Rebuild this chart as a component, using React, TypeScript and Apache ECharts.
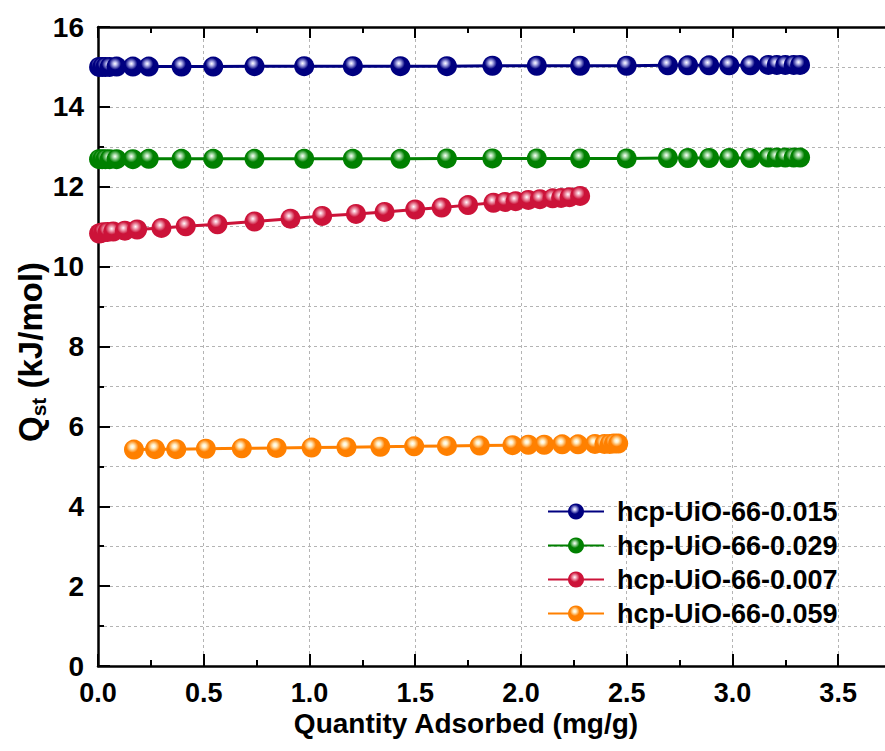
import React, { useEffect, useRef } from "react";
import * as echarts from "echarts";

const seriesNames = ["hcp-UiO-66-0.015", "hcp-UiO-66-0.029", "hcp-UiO-66-0.007", "hcp-UiO-66-0.059"];
const seriesColors = ["#000080", "#008000", "#cc1339", "#ff8000"];
const seriesHighlights = ["#b8b8ec", "#b0e0b0", "#f4b0c0", "#fff0c8"];

const xTop = [0.005, 0.02, 0.035, 0.055, 0.088, 0.165, 0.24, 0.395, 0.545, 0.74, 0.975, 1.205, 1.43, 1.65, 1.865, 2.075, 2.28, 2.5, 2.695, 2.79, 2.89, 2.985, 3.085, 3.17, 3.21, 3.25, 3.29, 3.32];
const yBlue = [15.0, 15.0, 15.0, 15.0, 15.01, 15.01, 15.01, 15.01, 15.01, 15.02, 15.02, 15.02, 15.02, 15.02, 15.03, 15.03, 15.03, 15.03, 15.04, 15.04, 15.04, 15.04, 15.04, 15.05, 15.05, 15.05, 15.05, 15.05];
const yGreen = [12.69, 12.69, 12.69, 12.69, 12.69, 12.69, 12.7, 12.7, 12.7, 12.7, 12.7, 12.7, 12.7, 12.71, 12.71, 12.71, 12.71, 12.71, 12.72, 12.72, 12.72, 12.72, 12.72, 12.73, 12.73, 12.73, 12.73, 12.73];
const xRed = [0.005, 0.012, 0.025, 0.045, 0.072, 0.127, 0.185, 0.3, 0.415, 0.565, 0.74, 0.91, 1.06, 1.22, 1.355, 1.5, 1.625, 1.75, 1.87, 1.925, 1.975, 2.035, 2.09, 2.15, 2.19, 2.23, 2.28];
const yRed = [10.83, 10.84, 10.86, 10.87, 10.88, 10.9, 10.93, 10.97, 11.01, 11.06, 11.13, 11.2, 11.27, 11.32, 11.37, 11.43, 11.48, 11.54, 11.6, 11.62, 11.64, 11.67, 11.69, 11.71, 11.72, 11.74, 11.77];
const xOrange = [0.17, 0.27, 0.37, 0.51, 0.68, 0.845, 1.01, 1.175, 1.335, 1.495, 1.65, 1.805, 1.96, 2.035, 2.11, 2.195, 2.27, 2.35, 2.395, 2.42, 2.44, 2.46];
const yOrange = [5.42, 5.43, 5.43, 5.44, 5.45, 5.46, 5.47, 5.48, 5.49, 5.5, 5.51, 5.52, 5.53, 5.54, 5.54, 5.55, 5.55, 5.56, 5.56, 5.56, 5.57, 5.57];

const xTitle = "Quantity Adsorbed (mg/g)";
const yTitleMain = "Q";
const yTitleSub = "st";
const yTitleUnit = "(kJ/mol)";
const FONT = "'Liberation Sans', Arial, sans-serif";

function zip(xs: number[], ys: number[]) {
  return xs.map((x, i) => [x, ys[i]]);
}

function ball(base: string, hi: string) {
  return new echarts.graphic.RadialGradient(0.42, 0.36, 0.6, [
    { offset: 0, color: "#ffffff" },
    { offset: 0.16, color: hi },
    { offset: 0.5, color: base },
    { offset: 1, color: base },
  ]);
}

export default function App() {
  const ref = useRef<HTMLDivElement>(null);
  useEffect(() => {
    if (!ref.current) return;
    const chart = echarts.init(ref.current, undefined, { renderer: "svg" });
    const datasets = [zip(xTop, yBlue), zip(xTop, yGreen), zip(xRed, yRed), zip(xOrange, yOrange)];
    const gridLine = { show: true, lineStyle: { color: "#b4b4b4", type: [3, 3] as any, width: 1 } };
    const axisLine = { show: true, onZero: false, lineStyle: { color: "#000", width: 2.5 } };
    const titleFont = { fontFamily: FONT, fontWeight: "bold", fill: "#000", verticalAlign: "middle", align: "left" };
    const mainSize = 33;
    const subSize = 21;
    const qW = 0.778 * mainSize;
    const sW = 0.889 * subSize;
    const spW = 0.278 * mainSize;
    const start = -92;
    chart.setOption({
      animation: false,
      backgroundColor: "#ffffff",
      textStyle: { fontFamily: FONT },
      grid: { left: 98, top: 27, width: 793, height: 639, containLabel: false, outerBoundsMode: "none" },
      legend: {
        orient: "vertical",
        left: 547,
        top: 498,
        padding: 0,
        itemWidth: 56,
        itemHeight: 20,
        itemGap: 7,
        data: seriesNames,
        textStyle: { fontFamily: FONT, fontSize: 27, fontWeight: "bold", color: "#000", lineHeight: 27, padding: [0, 0, 0, 8] },
      },
      xAxis: [
        {
          type: "value",
          min: 0,
          max: 3.75,
          interval: 0.5,
          position: "bottom",
          axisLine,
          axisTick: { show: true, inside: true, length: 12, lineStyle: { width: 2, color: "#000" } },
          minorTick: { show: true, splitNumber: 2, length: 6, lineStyle: { width: 2, color: "#000" } },
          splitLine: gridLine,
          axisLabel: {
            showMaxLabel: false,
            margin: 13,
            fontFamily: FONT,
            fontSize: 27,
            fontWeight: "bold",
            color: "#000",
            formatter: (v: number) => v.toFixed(1),
          },
        },
        {
          type: "value",
          min: 0,
          max: 3.75,
          interval: 0.5,
          position: "top",
          axisLine,
          axisTick: { show: true, inside: true, length: 11, lineStyle: { width: 2, color: "#000" } },
          minorTick: { show: true, splitNumber: 2, length: 6, lineStyle: { width: 2, color: "#000" } },
          splitLine: { show: false },
          axisLabel: { show: false },
        },
      ],
      yAxis: {
        type: "value",
        min: 0,
        max: 16,
        interval: 2,
        axisLine,
        axisTick: { show: true, inside: true, length: 12, lineStyle: { width: 2, color: "#000" } },
        minorTick: { show: true, splitNumber: 2, length: 6, lineStyle: { width: 2, color: "#000" } },
        splitLine: gridLine,
        minorSplitLine: gridLine,
        axisLabel: { margin: 14, fontFamily: FONT, fontSize: 28, fontWeight: "bold", color: "#000" },
      },
      graphic: [
        {
          type: "text",
          x: 466,
          y: 723,
          style: {
            text: xTitle,
            fontFamily: FONT,
            fontSize: 28,
            fontWeight: "bold",
            fill: "#000",
            align: "center",
            verticalAlign: "middle",
          },
        },
        {
          type: "group",
          x: 30,
          y: 350,
          rotation: Math.PI / 2,
          children: [
            { type: "text", x: start, y: 0, style: { ...titleFont, text: yTitleMain, fontSize: mainSize } },
            { type: "text", x: start + qW, y: 8, style: { ...titleFont, text: yTitleSub, fontSize: subSize } },
            { type: "text", x: start + qW + sW + spW, y: 0, style: { ...titleFont, text: yTitleUnit, fontSize: mainSize } },
          ],
        },
      ],
      series: datasets.map((d, i) => ({
        name: seriesNames[i],
        type: "line",
        xAxisIndex: 0,
        data: d,
        symbol: "circle",
        symbolSize: 20,
        showAllSymbol: true,
        lineStyle: { color: seriesColors[i], width: 3 },
        itemStyle: { color: ball(seriesColors[i], seriesHighlights[i]), borderWidth: 0 },
        emphasis: { disabled: true },
      })),
    });
    return () => chart.dispose();
  }, []);
  return <div ref={ref} style={{ position: "absolute", left: 0, top: 0, width: 885, height: 751, overflow: "hidden" }} />;
}
